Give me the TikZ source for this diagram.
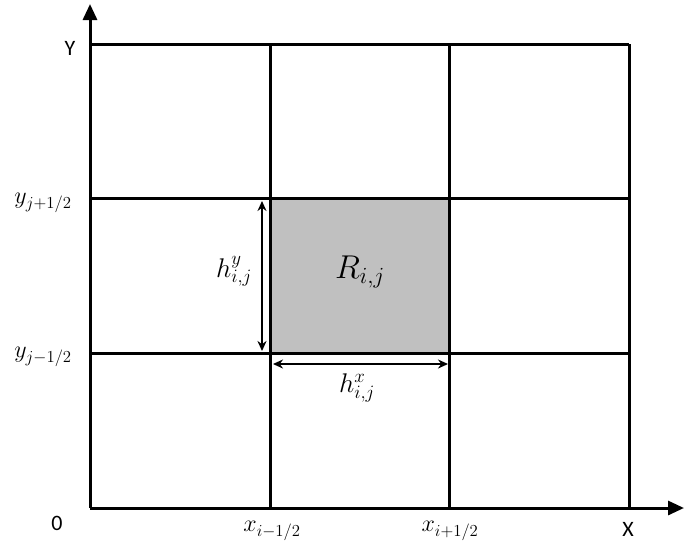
\RequirePackage{fix-cm}
\documentclass[tikz,border=0pt]{standalone}
\usepackage{fontspec}
\setmainfont{Carlito}
\usetikzlibrary{arrows.meta, positioning}
\definecolor{cellgray}{RGB}{192,192,192}

\begin{document}
\begin{tikzpicture}[x=1pt, y=-1pt,
  grid/.style={line width=3pt},
  axis/.style={line width=3pt, -{Triangle[length=16pt, width=14pt]}},
  dim/.style={line width=2pt, {Stealth[length=10pt, width=9pt]}-{Stealth[length=10pt, width=9pt]}},
  lbl/.style={inner sep=0pt, font=\fontsize{22}{26}\selectfont},
  mlbl/.style={inner sep=0pt, font=\fontsize{24}{28}\selectfont},
  hlbl/.style={inner sep=0pt, font=\fontsize{27}{32}\selectfont},
  big/.style={inner sep=0pt, font=\fontsize{33}{38}\selectfont}]
  \useasboundingbox (0,0) rectangle (688,547);
  % shaded cell
  \fill[cellgray] (270,198) rectangle (449,353);
  % grid
  \foreach \x in {270,449,629}
    \draw[grid] (\x,44) -- (\x,508);
  \foreach \y in {44,198,353}
    \draw[grid] (90,\y) -- (629,\y);
  % axes
  \coordinate (o)    at (90,508);
  \coordinate (ytip) at (90,4);
  \coordinate (xtip) at (684,508);
  \draw[axis] (o) -- (ytip);
  \draw[axis] (o) -- (xtip);
  \node[lbl] (ylab) at (70,48)  {Y};
  \node[lbl] (orig) at (57,523) {0};
  \node[lbl] (xlab) at (628,529) {X};
  \node[mlbl] (xm) at (272,531) {$x_{i-1/2}$};
  \node[mlbl] (xp) at (450,531) {$x_{i+1/2}$};
  \node[mlbl] (yp) at (43,203) {$y_{j+1/2}$};
  \node[mlbl] (ym) at (43,357) {$y_{j-1/2}$};
  % cell sizes
  \coordinate (hyt) at (262,201);
  \coordinate (hyb) at (262,351);
  \coordinate (hxl) at (273,364);
  \coordinate (hxr) at (448,364);
  \draw[dim] (hyt) -- (hyb);
  \draw[dim] (hxl) -- (hxr);
  \node[hlbl] (hy) at (234,271) {$h^y_{i,j}$};
  \node[hlbl] (hx) at (357,388) {$h^x_{i,j}$};
  \node[big] (cell) at (360,272) {$R_{i,j}$};
\end{tikzpicture}
\end{document}
